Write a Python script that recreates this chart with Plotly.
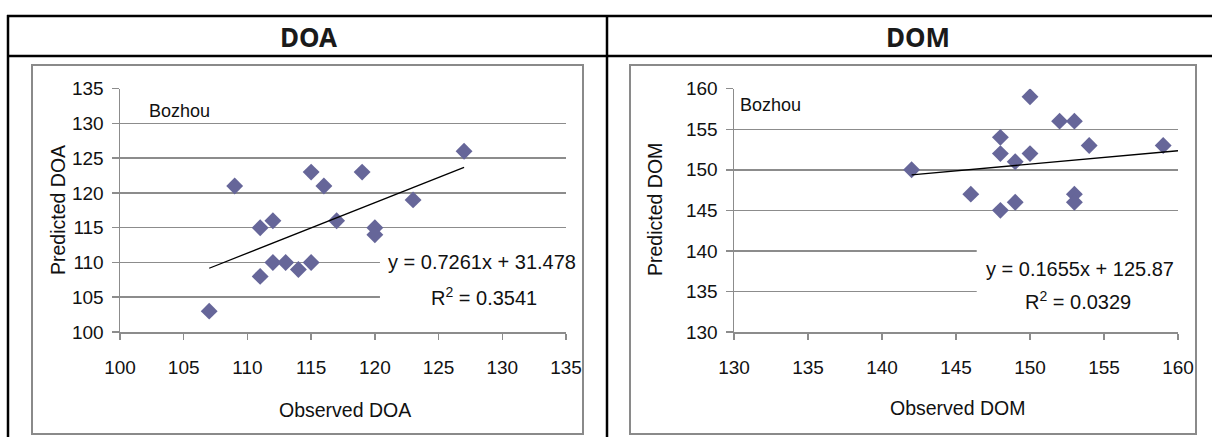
import plotly.graph_objects as go

# ---------------- data ----------------
doa_observed = [107, 109, 111, 111, 112, 112, 113, 114, 115, 115, 116, 117, 119, 120, 120, 123, 127]
doa_predicted = [103, 121, 115, 108, 116, 110, 110, 109, 123, 110, 121, 116, 123, 115, 114, 119, 126]
doa_slope, doa_intercept, doa_r2 = 0.7261, 31.478, 0.3541
doa_x_range = [100, 135]
doa_y_range = [100, 135]

dom_observed = [142, 146, 148, 148, 148, 149, 149, 150, 150, 152, 153, 153, 153, 154, 159]
dom_predicted = [150, 147, 154, 152, 145, 151, 146, 159, 152, 156, 156, 147, 146, 153, 153]
dom_slope, dom_intercept, dom_r2 = 0.1655, 125.87, 0.0329
dom_x_range = [130, 160]
dom_y_range = [130, 160]

panel_titles = ["DOA", "DOM"]
site_label = "Bozhou"

W, H = 1212, 437
def X(p): return p / W
def Y(p): return 1 - p / H

FONT = "Liberation Sans, Arial, sans-serif"
GRID = "#8c8c8c"
MARK = "#666699"

fig = go.Figure()

# scatter points
fig.add_trace(go.Scatter(x=doa_observed, y=doa_predicted, mode="markers",
                         marker=dict(symbol="diamond", size=13, color=MARK),
                         xaxis="x", yaxis="y", showlegend=False, hoverinfo="skip"))
fig.add_trace(go.Scatter(x=dom_observed, y=dom_predicted, mode="markers",
                         marker=dict(symbol="diamond", size=13, color=MARK),
                         xaxis="x2", yaxis="y2", showlegend=False, hoverinfo="skip"))

# trendlines from equations
tx1 = [min(doa_observed), max(doa_observed)]
fig.add_trace(go.Scatter(x=tx1, y=[doa_slope * v + doa_intercept for v in tx1], mode="lines",
                         line=dict(color="black", width=1.3), xaxis="x", yaxis="y",
                         showlegend=False, hoverinfo="skip"))
tx2 = [min(dom_observed), dom_x_range[1]]
fig.add_trace(go.Scatter(x=tx2, y=[dom_slope * v + dom_intercept for v in tx2], mode="lines",
                         line=dict(color="black", width=1.3), xaxis="x2", yaxis="y2",
                         showlegend=False, hoverinfo="skip"))

def xax(rng, dom, anchor):
    return dict(range=rng, domain=dom, anchor=anchor, dtick=5, showgrid=False, zeroline=False,
                automargin=False,
                showline=True, linecolor=GRID, linewidth=1.5, ticks="outside", ticklen=6,
                tickcolor=GRID, tickwidth=1.5, ticklabelstandoff=12,
                tickfont=dict(family=FONT, size=19, color="#111"), fixedrange=True)

def yax(rng, dom, anchor):
    return dict(range=rng, domain=dom, anchor=anchor, dtick=5, showgrid=True, gridcolor=GRID,
                automargin=False,
                gridwidth=1.5, zeroline=False, showline=True, linecolor=GRID, linewidth=1.5,
                ticks="outside", ticklen=7, tickcolor=GRID, tickwidth=1.5, ticklabelstandoff=4,
                tickfont=dict(family=FONT, size=19, color="#111"), fixedrange=True)

ydom = [Y(332), Y(88.7)]
fig.update_layout(
    width=W, height=H, margin=dict(l=0, r=0, t=0, b=0, pad=0), autosize=False,
    paper_bgcolor="white", plot_bgcolor="white",
    xaxis=xax(doa_x_range, [X(120), X(566)], "y"),
    yaxis=yax(doa_y_range, ydom, "x"),
    xaxis2=xax(dom_x_range, [X(734), X(1178)], "y2"),
    yaxis2=yax(dom_y_range, ydom, "x2"),
)

shapes = []
# white boxes behind the trendline labels (cover gridlines only)
shapes.append(dict(type="rect", xref="x", yref="y", x0=120.4, x1=135.5, y0=102.3, y1=112.6,
                   fillcolor="white", line=dict(width=0), layer="between"))
shapes.append(dict(type="rect", xref="x2", yref="y2", x0=146.4, x1=160.5, y0=131.7, y1=141.6,
                   fillcolor="white", line=dict(width=0), layer="between"))
# chart frames
for x0, x1 in [(32, 583), (630, 1196)]:
    shapes.append(dict(type="rect", xref="paper", yref="paper", x0=X(x0), x1=X(x1), y0=Y(434), y1=Y(65),
                       line=dict(color="#8a8a8a", width=2), layer="above"))
# table lines
tbl = dict(color="black", width=2.5)
shapes.append(dict(type="line", xref="paper", yref="paper", x0=X(7), x1=X(1212), y0=Y(16), y1=Y(16), line=tbl))
shapes.append(dict(type="line", xref="paper", yref="paper", x0=X(7), x1=X(1212), y0=Y(56), y1=Y(56), line=tbl))
shapes.append(dict(type="line", xref="paper", yref="paper", x0=X(8), x1=X(8), y0=Y(15), y1=Y(437), line=tbl))
shapes.append(dict(type="line", xref="paper", yref="paper", x0=X(607), x1=X(607), y0=Y(15), y1=Y(437), line=tbl))
fig.update_layout(shapes=shapes)

ann = []
def A(text, x, y, size=19, angle=0, xanchor="center", **kw):
    ann.append(dict(text=text, x=X(x), y=Y(y), xref="paper", yref="paper", showarrow=False,
                    xanchor=xanchor, yanchor="middle", textangle=angle,
                    font=dict(family=kw.get("family", FONT), size=size, color=kw.get("color", "#111"))))

# headers
A(f"<b>{panel_titles[0]}</b>", 308, 37, size=26, family="Noto Sans, sans-serif", color="#1a1a1a")
A(f"<b>{panel_titles[1]}</b>", 918, 37, size=26, family="Noto Sans, sans-serif", color="#1a1a1a")
# site labels
A(site_label, 147, 111, size=18, xanchor="left")
A(site_label, 738, 105, size=18, xanchor="left")
# axis titles
A("Predicted DOA", 58, 210, size=19.5, angle=-90)
A("Observed DOA", 345, 410, size=19.5)
A("Predicted DOM", 655, 210, size=19.5, angle=-90)
A("Observed DOM", 957, 408, size=19.5)
# equations
A(f"y = {doa_slope}x + {doa_intercept}", 482, 262, size=20)
A(f"R<sup>2</sup> = {doa_r2}", 484, 296, size=20)
A(f"y = {dom_slope}x + {dom_intercept}", 1080, 269, size=20)
A(f"R<sup>2</sup> = {dom_r2}", 1078, 300, size=20)
fig.update_layout(annotations=ann)

fig.write_html("out.html", config={"displayModeBar": False, "staticPlot": True},
               post_script="document.body.style.margin='0';document.body.style.padding='0';"
                           "document.documentElement.style.overflow='hidden';")
